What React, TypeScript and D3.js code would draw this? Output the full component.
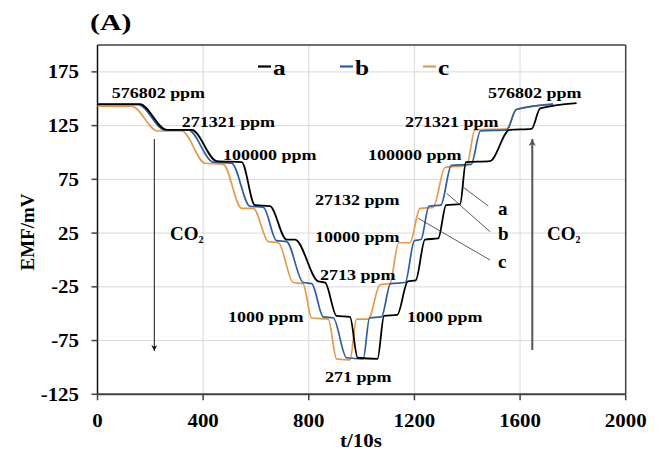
import React from "react";
import * as d3 from "d3";

// ---- data ----
const seriesA: [number, number][] = [
  [0, 145], [160, 145], [262, 121], [357, 121], [451, 92], [546, 91], [596, 51], [653, 50],
  [716, 19], [748, 19], [836, -20], [862, -21], [905, -52], [956, -53], [985, -91], [1060, -92],
  [1085, -52], [1135, -51], [1175, -20], [1205, -19], [1240, 19], [1290, 20], [1320, 51], [1373, 52],
  [1395, 91], [1486, 92], [1560, 121], [1644, 122], [1676, 141], [1814, 146],
];
const seriesB: [number, number][] = [
  [0, 144.5], [155, 144.5], [255, 121], [344, 121], [438, 91], [508, 90], [577, 50], [628, 49],
  [678, 18], [716, 17], [779, -21], [811, -22], [855, -53], [893, -54], [943, -91], [1006, -92],
  [1030, -54], [1075, -53], [1110, -22], [1165, -21], [1200, 18], [1225, 19], [1255, 50], [1300, 51],
  [1340, 88], [1415, 89], [1450, 120], [1550, 121], [1585, 140], [1725, 145],
];
const seriesC: [number, number][] = [
  [0, 143], [129, 143], [228, 120], [319, 120], [407, 90], [476, 89], [546, 48], [590, 48],
  [647, 17], [685, 16], [741, -21], [778, -22], [811, -54], [874, -55], [905, -92], [956, -93],
  [981, -55], [1025, -55], [1070, -23], [1107, -22], [1140, 16], [1183, 16], [1221, 48], [1271, 49],
  [1316, 86], [1398, 88], [1429, 121], [1549, 122], [1587, 140], [1725, 145],
];
const seriesNames = ["a", "b", "c"];
const xTicks = [0, 400, 800, 1200, 1600, 2000];
const yTicks = [-125, -75, -25, 25, 75, 125, 175];
const xGrid = [400, 800, 1200, 1600];

const FONT = "'Liberation Serif', 'Times New Roman', serif";
const COLORS = { a: "#000000", b: "#2E5D9F", c: "#E59A4A" };

function T({ x, y, sx = 1, size, anchor = "start", weight = "bold", fill = "#000", children, rotate = 0 }: any) {
  return (
    <text
      transform={`translate(${x},${y}) rotate(${rotate}) scale(${sx},1)`}
      fontSize={size}
      fontWeight={weight}
      textAnchor={anchor}
      fontFamily={FONT}
      fill={fill}
    >
      {children}
    </text>
  );
}

export default function App() {
  const W = 664, H = 459;
  const L = 97.5, R = 625.7, Tp = 45, B = 394.3;
  const x = d3.scaleLinear().domain([0, 2000]).range([L, R]);
  const y = d3.scaleLinear().domain([-125, 200]).range([B, Tp]);
  const line = d3
    .line<[number, number]>()
    .x((d) => x(d[0]))
    .y((d) => y(d[1]))
    .curve(d3.curveMonotoneX);

  const ppm = (t: string, px: number, py: number) => (
    <T x={px} y={py} size={15} sx={1.2}>{t}</T>
  );

  return (
    <svg width={W} height={H} style={{ position: "absolute", left: 0, top: 0, background: "#fff" }}>
      <defs>
        <marker id="arrL" viewBox="0 0 10 10" refX="10" refY="5" markerWidth="9" markerHeight="6" orient="auto" markerUnits="userSpaceOnUse">
          <path d="M0,0 L10,5 L0,10 L3,5 Z" fill="#111" />
        </marker>
        <marker id="arrR" viewBox="0 0 10 10" refX="10" refY="5" markerWidth="10" markerHeight="7" orient="auto" markerUnits="userSpaceOnUse">
          <path d="M0,0 L10,5 L0,10 L3,5 Z" fill="#555" />
        </marker>
      </defs>
      <rect x={0} y={0} width={W} height={H} fill="#fff" />
      {/* grid */}
      {yTicks.filter((v) => v > -125).map((v) => (
        <line key={"gy" + v} x1={L} x2={R} y1={y(v)} y2={y(v)} stroke="#d9d9d9" strokeWidth={1} />
      ))}
      {xGrid.map((v) => (
        <line key={"gx" + v} x1={x(v)} x2={x(v)} y1={Tp} y2={B} stroke="#d9d9d9" strokeWidth={1} />
      ))}
      {/* frame */}
      <line x1={L} x2={R} y1={Tp} y2={Tp} stroke="#404040" strokeWidth={1.5} />
      <line x1={R} x2={R} y1={Tp} y2={B} stroke="#404040" strokeWidth={1.5} />
      <line x1={L} x2={L} y1={Tp} y2={B} stroke="#111" strokeWidth={1.5} />
      <line x1={L} x2={R} y1={B} y2={B} stroke="#404040" strokeWidth={2} />
      {/* ticks */}
      {yTicks.map((v) => (
        <g key={"yt" + v}>
          <line x1={L - 6} x2={L} y1={y(v)} y2={y(v)} stroke="#404040" strokeWidth={1.5} />
          <T x={79} y={y(v) + 6.5} size={19} sx={1.1} anchor="end">{v}</T>
        </g>
      ))}
      {xTicks.map((v) => (
        <g key={"xt" + v}>
          <line x1={x(v)} x2={x(v)} y1={B} y2={B + 6} stroke="#404040" strokeWidth={1.5} />
          <T x={x(v)} y={427} size={19} sx={1.1} anchor="middle">{v}</T>
        </g>
      ))}
      {/* axis titles */}
      <T x={361} y={447} size={19} sx={1.1} anchor="middle">t/10s</T>
      <T x={34} y={232} size={19} anchor="middle" rotate={-90}>EMF/mV</T>
      <T x={90} y={30} size={23} sx={1.3}>(A)</T>

      {/* series */}
      <path d={line(seriesC) || ""} fill="none" stroke={COLORS.c} strokeWidth={1.7} />
      <path d={line(seriesB) || ""} fill="none" stroke={COLORS.b} strokeWidth={1.7} />
      <path d={line(seriesA) || ""} fill="none" stroke={COLORS.a} strokeWidth={1.8} />

      {/* legend */}
      {seriesNames.map((n, i) => {
        const lx = [258, 340, 423][i];
        return (
          <g key={n}>
            <line x1={lx} x2={lx + 13} y1={66.5} y2={66.5} stroke={(COLORS as any)[n]} strokeWidth={2.2} />
            <T x={lx + 15} y={75} size={22} sx={1.15}>{n}</T>
          </g>
        );
      })}

      {/* ppm labels */}
      {ppm("576802 ppm", 111.7, 97.5)}
      {ppm("271321 ppm", 181.7, 127)}
      {ppm("100000 ppm", 223, 160)}
      {ppm("27132 ppm", 315, 205)}
      {ppm("10000 ppm", 315, 242)}
      {ppm("2713 ppm", 320, 280)}
      {ppm("1000 ppm", 228, 322)}
      {ppm("1000 ppm", 407, 322)}
      {ppm("271 ppm", 325, 382)}
      {ppm("576802 ppm", 488, 98)}
      {ppm("271321 ppm", 405, 127)}
      {ppm("100000 ppm", 368, 160)}

      {/* CO2 arrows */}
      <line x1={154.3} x2={154.3} y1={139} y2={351} stroke="#111" strokeWidth={1} markerEnd="url(#arrL)" />
      <T x={170} y={240} size={19} weight="bold">CO<tspan fontSize={10} dy={3}>2</tspan></T>
      <line x1={532.3} x2={532.3} y1={350} y2={139} stroke="#555" strokeWidth={2} markerEnd="url(#arrR)" />
      <T x={547} y={240} size={19} weight="bold">CO<tspan fontSize={10} dy={3}>2</tspan></T>

      {/* a/b/c leaders */}
      <line x1={463.3} y1={187.3} x2={488.3} y2={206} stroke="#333" strokeWidth={0.8} />
      <line x1={446.7} y1={193.3} x2={490} y2={231.7} stroke="#333" strokeWidth={0.8} />
      <line x1={418.3} y1={218.3} x2={490} y2={260} stroke="#333" strokeWidth={0.8} />
      <T x={498} y={215} size={19}>a</T>
      <T x={498} y={240} size={19}>b</T>
      <T x={498} y={268} size={19}>c</T>
    </svg>
  );
}
